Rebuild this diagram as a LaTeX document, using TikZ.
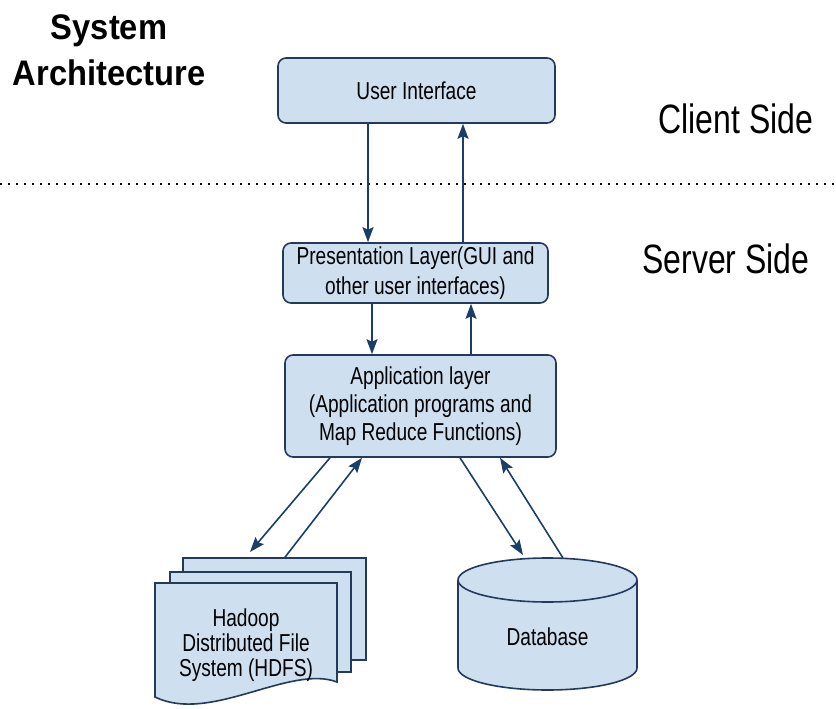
\documentclass[tikz,border=0pt]{standalone}
\usepackage{fontspec}
\setmainfont{Liberation Sans}[FakeStretch=0.78]
\newfontfamily\titlefont{Liberation Sans}[FakeStretch=0.92]
\usetikzlibrary{arrows.meta}

\definecolor{boxfill}{RGB}{206,223,240}
\definecolor{boxline}{RGB}{35,58,90}
\definecolor{flowcol}{RGB}{25,62,105}

\begin{document}
\begin{tikzpicture}[x=1pt, y=-1pt,
    layer/.style={draw=boxline, fill=boxfill, line width=1.6pt, rounded corners=8pt,
      align=center, inner sep=0pt, font=\fontsize{24.5}{28}\selectfont},
    docpage/.style={draw=boxline, fill=boxfill, line width=1.6pt, inner sep=0pt},
    flow/.style={draw=flowcol, line width=1.6pt, -{Stealth[length=15pt,width=11pt,inset=2.5pt]}},
    sidelabel/.style={font=\fontsize{41}{42}\selectfont}]
   \useasboundingbox (0,0) rectangle (836,709);

   % headings
   \node[font=\titlefont\bfseries\fontsize{35.5}{46}\selectfont, align=center] (title) at (109,50) {System\\Architecture};
   \node[sidelabel] (client) at (736,119) {Client Side};
   \node[sidelabel] (server) at (726,259) {Server Side};
   \draw[line width=1.5pt, dash pattern=on 1.5pt off 6.5pt] (0,184) -- (836,184);

   % layers
   \node[layer, minimum width=277pt, minimum height=65pt] (ui) at (416.5,90.5) {User Interface};
   \node[layer, minimum width=265pt, minimum height=60pt, font=\fontsize{24.5}{30}\selectfont] (pres) at (415.5,273) {Presentation Layer(GUI and\\other user interfaces)};
   \node[layer, minimum width=271pt, minimum height=102pt] (app) at (420.5,406) {Application layer\\(Application programs and\\Map Reduce Functions)};

   % hdfs stack
   \node[docpage, minimum width=183pt, minimum height=102pt] (hdfs3) at (274.5,609) {};
   \node[docpage, minimum width=181pt, minimum height=100pt] (hdfs2) at (260.5,622) {};
   \path[draw=boxline, fill=boxfill, line width=1.6pt]
     (155,583) -- (337,583) -- (337,682) .. controls (290,664) and (210,724) .. (155,697) -- cycle;
   \node[align=center, font=\fontsize{24.5}{25}\selectfont] (hdfs) at (246,645) {Hadoop\\Distributed File\\System (HDFS)};
   \coordinate (hdfsin) at (250,552);

   % database
   \path[draw=boxline, fill=boxfill, line width=1.6pt]
     (458,580) -- (458,668) arc[start angle=180, end angle=0, x radius=89.5, y radius=22]
     -- (637,580) arc[start angle=0, end angle=-180, x radius=89.5, y radius=22] -- cycle;
   \draw[boxline, line width=1.6pt] (458,580) arc[start angle=180, end angle=0, x radius=89.5, y radius=22];
   \node[font=\fontsize{24.5}{25}\selectfont] (db) at (547.5,637) {Database};
   \coordinate (dbin) at (523,555);
   \coordinate (dbtop) at (563,558);

   % flows
   \draw[flow] (ui.south -| 368,0) -- (pres.north -| 368,0);
   \draw[flow] (pres.north -| 463,0) -- (ui.south -| 463,0);
   \draw[flow] (pres.south -| 372,0) -- (app.north -| 372,0);
   \draw[flow] (app.north -| 471,0) -- (pres.south -| 471,0);
   \draw[flow] (app.south -| 330,0) -- (hdfsin);
   \draw[flow] (hdfs3.north -| 285,0) -- (app.south -| 362,0);
   \draw[flow] (app.south -| 460,0) -- (dbin);
   \draw[flow] (dbtop) -- (app.south -| 500,0);
\end{tikzpicture}
\end{document}
